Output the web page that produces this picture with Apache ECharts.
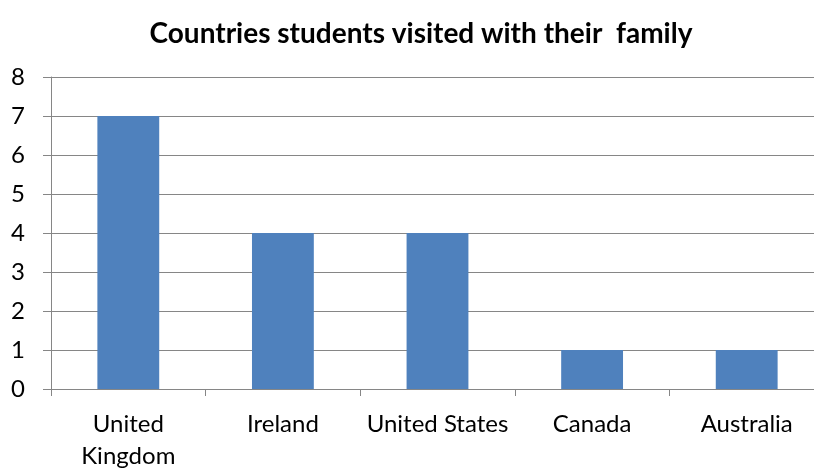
<!DOCTYPE html>
<html>
<head>
<meta charset="utf-8">
<script src="https://cdn.jsdelivr.net/npm/echarts@6/dist/echarts.min.js"></script>
<style>html,body{margin:0;padding:0;background:#fff}#c{width:814px;height:468px}</style>
</head>
<body>
<div id="c"></div>
<script>
var title = 'Countries students visited with their  family';
var categories = ['United Kingdom', 'Ireland', 'United States', 'Canada', 'Australia'];
var values = [7, 4, 4, 1, 1];
var yTicks = [0, 1, 2, 3, 4, 5, 6, 7, 8];

var chart = echarts.init(document.getElementById('c'), null, {renderer: 'canvas'});
var font = 'Lato, "Open Sans", sans-serif';
chart.setOption({
  animation: false,
  title: {
    text: title,
    left: 416, textAlign: 'center', top: 15,
    textStyle: {fontFamily: font, fontWeight: 'bold', fontSize: 28, color: '#000'}
  },
  grid: {left: 51, top: 77, width: 773, height: 312, containLabel: false, outerBoundsMode: 'none'},
  xAxis: {
    type: 'category',
    data: categories,
    boundaryGap: true,
    axisLine: {lineStyle: {color: '#868686', width: 1}},
    axisTick: {show: true, length: 7, alignWithLabel: false, lineStyle: {color: '#868686'}},
    axisLabel: {
      interval: 0, margin: 19, color: '#000', fontFamily: font, fontSize: 24, lineHeight: 32,
      formatter: function (v) { return v === 'United Kingdom' ? 'United\nKingdom' : v; }
    }
  },
  yAxis: {
    type: 'value',
    min: yTicks[0], max: yTicks[yTicks.length - 1], interval: 1,
    axisLine: {show: true, lineStyle: {color: '#868686', width: 1}},
    axisTick: {show: true, length: 8, inside: false, lineStyle: {color: '#868686'}},
    splitLine: {show: true, lineStyle: {color: '#868686', width: 1}},
    axisLabel: {margin: 26, color: '#000', fontFamily: font, fontSize: 24}
  },
  series: [{
    type: 'bar',
    data: values,
    barWidth: '40%',
    itemStyle: {color: '#4F81BD'}
  }]
});
</script>
</body>
</html>
